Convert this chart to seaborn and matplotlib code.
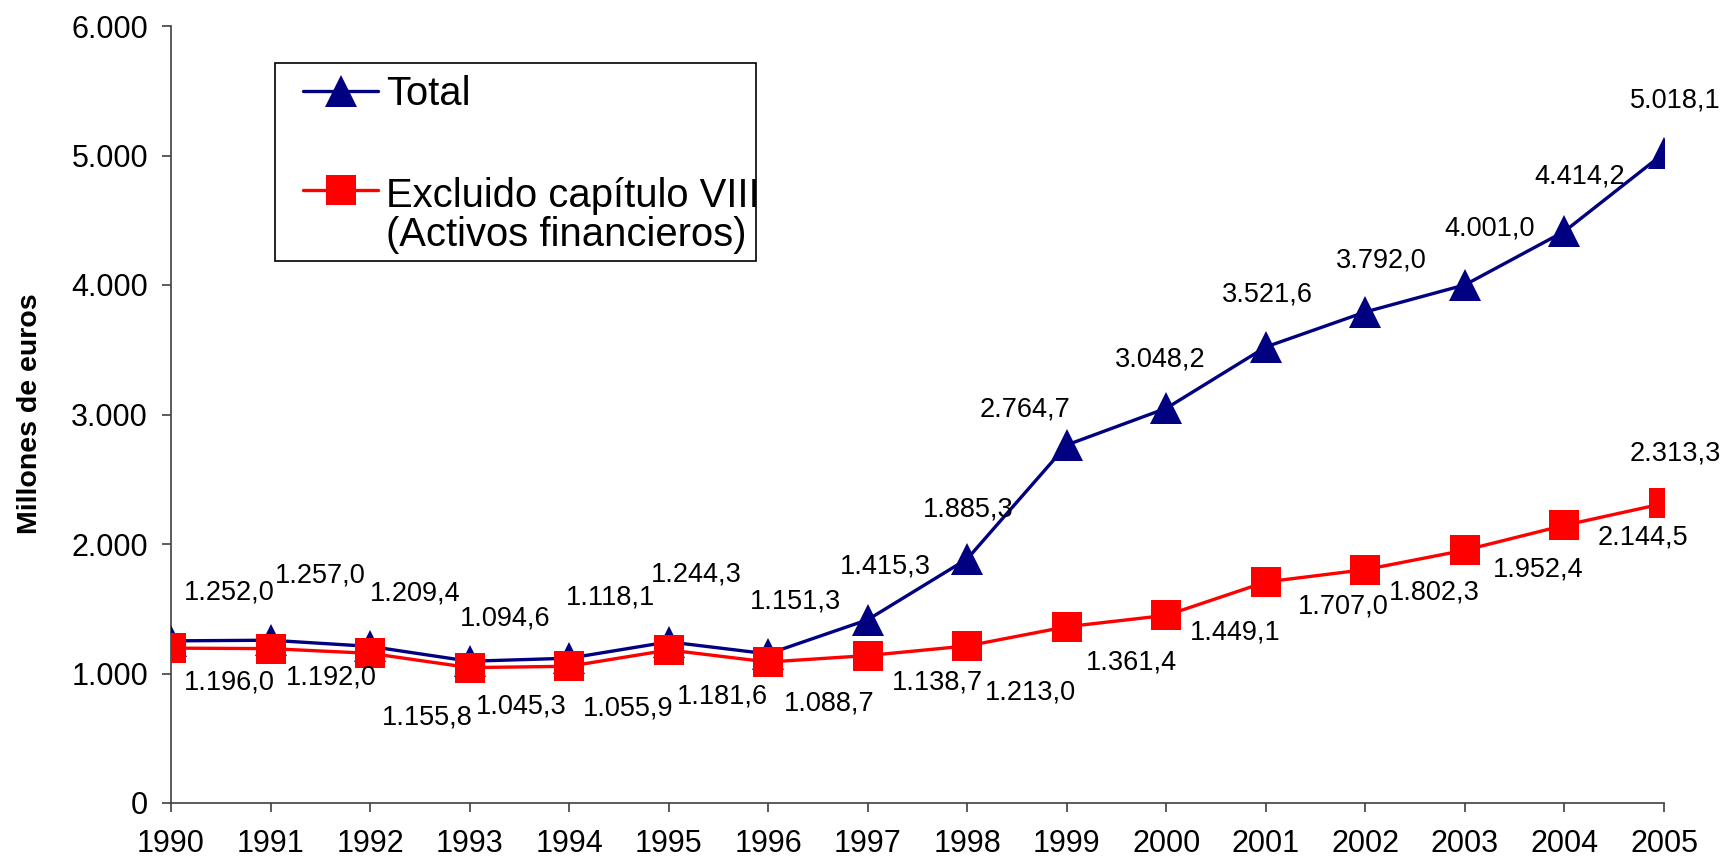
import matplotlib
matplotlib.use('Agg')
import matplotlib.pyplot as plt
import matplotlib.ticker as mticker
from matplotlib.lines import Line2D
from matplotlib.patches import Rectangle
import seaborn as sns

# Datos (millones de euros)
years = list(range(1990, 2006))
total = [1252.0, 1257.0, 1209.4, 1094.6, 1118.1, 1244.3, 1151.3, 1415.3,
         1885.3, 2764.7, 3048.2, 3521.6, 3792.0, 4001.0, 4414.2, 5018.1]
excluido = [1196.0, 1192.0, 1155.8, 1045.3, 1055.9, 1181.6, 1088.7, 1138.7,
            1213.0, 1361.4, 1449.1, 1707.0, 1802.3, 1952.4, 2144.5, 2313.3]
y_ticks = [0, 1000, 2000, 3000, 4000, 5000, 6000]

label_total = 'Total'
label_excl = 'Excluido capítulo VIII\n(Activos financieros)'
y_title = 'Millones de euros'

# desplazamiento de las etiquetas (pixeles, x derecha / y arriba)
off_total = [(58, 48), (50, 65), (45, 53), (36, 43), (41, 61), (28, 67), (27, 52), (18, 53),
             (1, 49), (-42, 35), (-6, 49), (2, 52), (16, 51), (25, 56), (15, 55), (11, 53)]
off_excl = [(58, -34), (61, -29), (57, -64), (52, -39), (59, -42), (54, -47), (61, -41), (70, -27),
            (63, -47), (65, -36), (69, -17), (77, -25), (69, -23), (73, -19), (78, -12), (11, 50)]

NAVY = '#000080'
RED = '#FF0000'

sns.set_style('ticks')
plt.rcParams['font.family'] = ['Liberation Sans', 'DejaVu Sans']
plt.rcParams['text.color'] = 'black'
plt.rcParams['xtick.color'] = 'black'
plt.rcParams['ytick.color'] = 'black'


def es_num(v, dec=1):
    s = f"{v:,.{dec}f}"
    return s.replace(',', 'X').replace('.', ',').replace('X', '.')


fig = plt.figure(figsize=(17.24, 8.59), dpi=100)
ax = fig.add_axes([171 / 1724, 1 - 803 / 859, (1664 - 171) / 1724, (803 - 26) / 859])

sns.lineplot(x=years, y=total, ax=ax, color=NAVY, linewidth=2.4, marker='^',
             markersize=22.5, markeredgewidth=0, markerfacecolor=NAVY, zorder=3)
sns.lineplot(x=years, y=excluido, ax=ax, color=RED, linewidth=2.4, marker='s',
             markersize=21.5, markeredgewidth=0, markerfacecolor=RED, zorder=4)

for x, v, (dx, dy) in zip(years, total, off_total):
    ax.annotate(es_num(v), (x, v), xytext=(dx, dy), textcoords='offset pixels',
                ha='center', va='center', fontsize=19.5, color='black', zorder=5)
for x, v, (dx, dy) in zip(years, excluido, off_excl):
    ax.annotate(es_num(v), (x, v), xytext=(dx, dy), textcoords='offset pixels',
                ha='center', va='center', fontsize=19.5, color='black', zorder=5,
                annotation_clip=False)

ax.set_xlim(years[0], years[-1])
ax.set_ylim(y_ticks[0], y_ticks[-1])
ax.set_xticks(years)
ax.set_yticks(y_ticks)
ax.yaxis.set_major_formatter(mticker.FuncFormatter(lambda v, p: es_num(v, 0)))
ax.tick_params(axis='both', labelsize=22, length=6.5, width=1.2, color='#404040',
               labelcolor='black', direction='out')
ax.tick_params(axis='x', pad=12)
ax.tick_params(axis='y', pad=10)
for side in ['top', 'right']:
    ax.spines[side].set_visible(False)
for side in ['left', 'bottom']:
    ax.spines[side].set_color('#404040')
    ax.spines[side].set_linewidth(1.2)

ax.set_xlabel('')
ax.set_ylabel('')
fig.text(30 / 1724, 1 - 414 / 859, y_title, rotation=90, ha='center', va='center',
         fontsize=20.5, fontweight='bold')

# leyenda: marco dibujado aparte
handles = [Line2D([0], [0], color=NAVY, linewidth=2.4, marker='^', markersize=22.5, markeredgewidth=0),
           Line2D([0], [0], color=RED, linewidth=2.4, marker='s', markersize=21.5, markeredgewidth=0)]
leg = ax.legend(handles, [label_total, label_excl], loc='upper left',
                bbox_to_anchor=(303 / 1724, 1 - 75 / 859), bbox_transform=fig.transFigure,
                frameon=False, fontsize=28.8, handlelength=1.88, handletextpad=0.2,
                borderpad=0, labelspacing=1.6, borderaxespad=0)
leg.get_texts()[1].set_linespacing(1.05)
h2 = leg.legend_handles[1]
h2.set_ydata(h2.get_ydata() + 19.5)
fig.patches.append(Rectangle((275 / 1724, 1 - 261 / 859), (756 - 275) / 1724, (261 - 63) / 859,
                             transform=fig.transFigure, fill=False, edgecolor='black',
                             linewidth=1.2, zorder=10))

fig.savefig('out.png', dpi=100)
